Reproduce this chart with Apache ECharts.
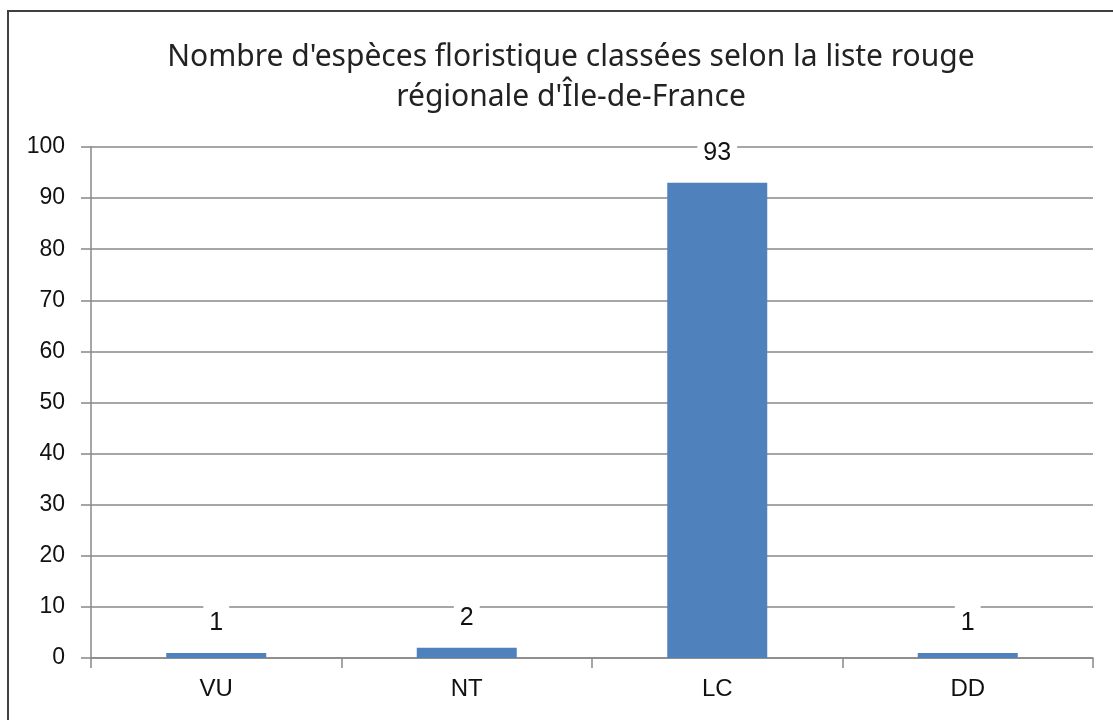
<!DOCTYPE html>
<html>
<head>
<meta charset="utf-8">
<script src="https://cdn.jsdelivr.net/npm/echarts@6/dist/echarts.min.js"></script>
<style>
html,body{margin:0;padding:0;background:#fff;}
#chart{width:1113px;height:720px;}
</style>
</head>
<body>
<div id="chart"></div>
<script>
const titleText = "Nombre d'espèces floristique classées selon la liste rouge\nrégionale d'Île-de-France";
const categories = ["VU", "NT", "LC", "DD"];
const values = [1, 2, 93, 1];
const yMin = 0, yMax = 100, yInterval = 10;

const chart = echarts.init(document.getElementById('chart'));
chart.setOption({
  animation: false,
  backgroundColor: '#ffffff',
  graphic: [{
    type: 'rect',
    shape: { x: 8, y: 11, width: 1300, height: 900 },
    style: { fill: 'none', stroke: '#404040', lineWidth: 2 },
    z: 100
  }],
  title: {
    text: titleText,
    left: 566,
    textAlign: 'center',
    top: 32,
    textStyle: { fontFamily: 'Noto Sans', fontSize: 30, fontWeight: 'normal', color: '#222', lineHeight: 40 }
  },
  grid: { left: 91, right: 20, top: 147, bottom: 62, containLabel: false },
  xAxis: {
    type: 'category',
    data: categories,
    axisLine: { lineStyle: { color: '#888', width: 1.5 } },
    axisTick: { show: true, length: 10, alignWithLabel: false, lineStyle: { color: '#888', width: 1.5 } },
    axisLabel: { fontFamily: 'Liberation Sans', fontSize: 24, color: '#111', margin: 19 }
  },
  yAxis: {
    type: 'value',
    min: yMin, max: yMax, interval: yInterval,
    axisLine: { show: true, lineStyle: { color: '#888', width: 1.5 } },
    axisTick: { show: true, length: 10, lineStyle: { color: '#888', width: 1.5 } },
    splitLine: { show: true, lineStyle: { color: '#888', width: 1.5 } },
    axisLabel: { fontFamily: 'Liberation Sans', fontSize: 23, color: '#111', margin: 26 }
  },
  series: [{
    type: 'bar',
    data: values,
    barWidth: 100,
    itemStyle: { color: '#4F81BD' },
    label: {
      show: true,
      position: 'top',
      distance: 16,
      fontFamily: 'Liberation Sans',
      fontSize: 25,
      color: '#111',
      backgroundColor: '#fff',
      padding: [8, 6, 1, 6]
    }
  }]
});
</script>
</body>
</html>
